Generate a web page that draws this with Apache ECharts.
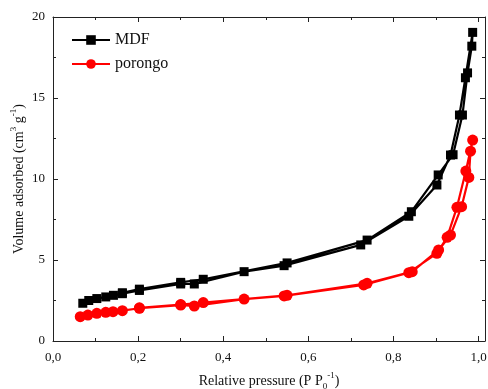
<!DOCTYPE html>
<html><head><meta charset="utf-8">
<script src="https://cdn.jsdelivr.net/npm/echarts@6/dist/echarts.min.js"></script>
<style>html,body{margin:0;padding:0;background:#fff}#c{width:488px;height:389px}</style>
</head><body><div id="c"></div>
<script>
var mdfAdsX = [0.070,0.084,0.103,0.124,0.142,0.163,0.203,0.300,0.332,0.449,0.543,0.723,0.836,0.902,0.934,0.955,0.969,0.986];
var mdfAdsY = [2.33,2.50,2.62,2.72,2.82,2.92,3.12,3.52,3.52,4.28,4.65,5.93,7.70,9.63,11.48,13.95,16.25,19.05];
var mdfDesX = [0.984,0.974,0.962,0.940,0.905,0.842,0.738,0.550,0.353,0.300,0.203,0.163];
var mdfDesY = [18.20,16.55,13.95,11.50,10.25,7.98,6.23,4.82,3.81,3.62,3.20,2.98];
var porAdsX = [0.064,0.082,0.103,0.124,0.141,0.163,0.203,0.300,0.332,0.449,0.543,0.730,0.836,0.902,0.926,0.949,0.970,0.986];
var porAdsY = [1.50,1.60,1.71,1.77,1.81,1.87,2.02,2.22,2.16,2.59,2.78,3.46,4.22,5.41,6.40,8.25,10.49,12.40];
var porDesX = [0.981,0.977,0.960,0.934,0.906,0.844,0.738,0.550,0.353,0.300,0.203];
var porDesY = [11.72,10.10,8.29,6.54,5.62,4.28,3.56,2.82,2.37,2.25,2.05];
var xTicks = [0,0.2,0.4,0.6,0.8,1.0];
var yTicks = [0,5,10,15,20];

function pairs(xs, ys){ return xs.map(function(x,i){ return [x, ys[i]]; }); }
var mdfData = pairs(mdfAdsX, mdfAdsY).concat(pairs(mdfDesX, mdfDesY));
var porData = pairs(porAdsX, porAdsY).concat(pairs(porDesX, porDesY));

var font = 'Liberation Serif';
var axisCol = '#222';
var rich = {
  b: {fontFamily: font, fontSize: 14, color: '#111', lineHeight: 20, verticalAlign: 'middle'},
  sup: {fontFamily: font, fontSize: 9, color: '#111', lineHeight: 20, verticalAlign: 'top'},
  sub: {fontFamily: font, fontSize: 9, color: '#111', lineHeight: 20, verticalAlign: 'bottom'}
};
var chart = echarts.init(document.getElementById('c'), null, {renderer: 'canvas'});
var common = {
  axisLine: {show: true, onZero: false, lineStyle: {color: axisCol, width: 1}},
  axisTick: {show: true, inside: true, length: 5, lineStyle: {color: axisCol}},
  minorTick: {show: true, splitNumber: 2, length: 3, lineStyle: {color: axisCol}},
  splitLine: {show: false}
};
chart.setOption({
  animation: false,
  backgroundColor: '#fff',
  grid: {left: 53, right: 3, top: 17, bottom: 48, containLabel: false, outerBoundsMode: 'none'},
  legend: {
    orient: 'vertical', left: 66, top: 27, itemWidth: 38, itemHeight: 12, itemGap: 8,
    textStyle: {fontFamily: font, fontSize: 16, color: '#111'},
    data: ['MDF', 'porongo']
  },
  xAxis: [
    Object.assign({}, common, {
      type: 'value', min: 0, max: 1.015, interval: 0.2,
      axisLabel: {fontFamily: font, fontSize: 13, color: '#111', margin: 10, showMaxLabel: false,
        formatter: function(v){ var r = Math.round(v*10)/10; return (xTicks.indexOf(r) >= 0 && Math.abs(v - r) < 1e-6) ? v.toFixed(1).replace('.', ',') : ''; }},
      name: '{b|Relative pressure (P P}{sub|0}{sup|-1}{b|)}',
      nameLocation: 'middle', nameGap: 30, nameMoveOverlap: false,
      nameTextStyle: {rich: rich}
    }),
    Object.assign({}, common, {
      type: 'value', position: 'top', min: 0, max: 1.015, interval: 0.2,
      axisLabel: {show: false}
    })
  ],
  yAxis: [
    Object.assign({}, common, {
      type: 'value', min: 0, max: 20, interval: 5,
      axisLabel: {fontFamily: font, fontSize: 13, color: '#111', margin: 8,
        formatter: function(v){ return yTicks.indexOf(v) >= 0 ? String(v) : ''; }},
      name: '{b|Volume adsorbed (cm}{sup|3}{b| g}{sup|-1}{b|)}',
      nameLocation: 'middle', nameGap: 24, nameRotate: 90, nameMoveOverlap: false,
      nameTextStyle: {rich: rich}
    }),
    Object.assign({}, common, {
      type: 'value', position: 'right', min: 0, max: 20, interval: 5,
      axisLabel: {show: false}
    })
  ],
  series: [
    {name: 'MDF', type: 'line', data: mdfData, symbol: 'rect', symbolSize: 9,
      lineStyle: {color: '#000', width: 2.2}, itemStyle: {color: '#000'}, z: 3},
    {name: 'porongo', type: 'line', data: porData, symbol: 'circle', symbolSize: 11,
      lineStyle: {color: '#ff0000', width: 2.2}, itemStyle: {color: '#ff0000'}, z: 2}
  ]
});
</script></body></html>
